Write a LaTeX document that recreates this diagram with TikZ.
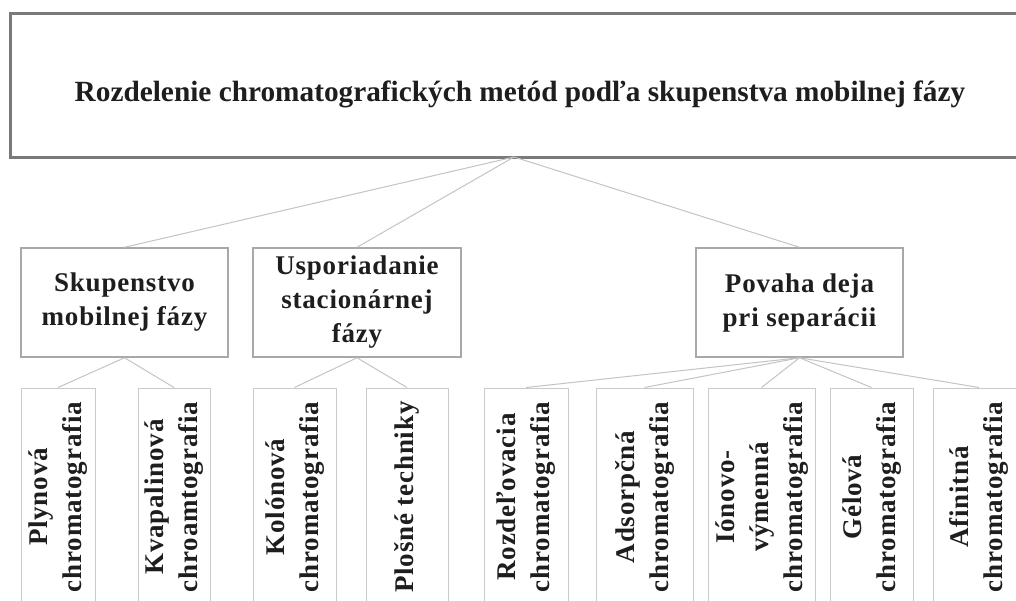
\documentclass[tikz,border=0pt]{standalone}
\usepackage{fontspec}
\setmainfont{Liberation Serif}
\newfontfamily\spc[LetterSpace=3]{Liberation Serif}
\definecolor{topgray}{HTML}{7A7A7A}
\definecolor{midgray}{HTML}{A8A8A8}
\definecolor{leafgray}{HTML}{CACACA}
\definecolor{conngray}{HTML}{C4C4C4}
\definecolor{txt}{HTML}{1E1E1E}
\newcommand{\leaftext}[1]{\rotatebox{90}{\begin{tabular}{@{}c@{}}#1\end{tabular}}}
\begin{document}
\begin{tikzpicture}[x=1pt,y=-1pt,
  topbox/.style={draw=topgray, line width=3pt, minimum width=1020pt, minimum height=144pt, inner sep=0pt},
  toptext/.style={text=txt, font=\bfseries\fontsize{29.3}{34}\selectfont, inner sep=0pt},
  midbox/.style={draw=midgray, line width=1.5pt, fill=white, inner sep=0pt, minimum height=109pt, align=center, text=txt, font=\spc\bfseries\fontsize{27}{34}\selectfont},
  leafbox/.style={draw=leafgray, line width=1pt, fill=white, inner sep=0pt, minimum height=218pt, text=txt, font=\spc\bfseries\fontsize{27}{34}\selectfont},
  conn/.style={draw=conngray, line width=1pt}]
\useasboundingbox (0,0) rectangle (1016,600);
\clip (0,0) rectangle (1016,600);
\fill[white] (0,0) rectangle (1016,600);

% top
\node[topbox] (top) at (520,85) {};
\node[toptext] (title) at (520,94) {Rozdelenie chromatografických metód podľa skupenstva mobilnej fázy};
\coordinate (t0) at (514,157);

% level 2
\node[midbox, minimum width=207pt] (sk) at (124.5,302.5) {Skupenstvo\\mobilnej fázy};
\node[midbox, minimum width=208pt] (us) at (357,302.5) {Usporiadanie\\stacionárnej\\fázy};
\node[midbox, minimum width=207pt] (po) at (799.5,302.5) {Povaha deja\\pri separácii};

% level 3
\node[leafbox, minimum width=74pt] (pl) at (58,497) {\leaftext{Plynová\\chromatografia}};
\node[leafbox, minimum width=72pt] (kv) at (174,497) {\leaftext{Kvapalinová\\chroamtografia}};
\node[leafbox, minimum width=83pt] (ko) at (294.5,497) {\leaftext{Kolónová\\chromatografia}};
\node[leafbox, minimum width=82pt] (ps) at (407,497) {\leaftext{Plošné techniky}};
\node[leafbox, minimum width=84pt] (ro) at (526,497) {\leaftext{Rozdeľovacia\\chromatografia}};
\node[leafbox, minimum width=97pt] (ad) at (644.5,497) {\leaftext{Adsorpčná\\chromatografia}};
\node[leafbox, minimum width=107pt] (io) at (761.5,497) {\leaftext{Iónovo-\\výmenná\\chromatografia}};
\node[leafbox, minimum width=83pt] (ge) at (871.5,497) {\leaftext{Gélová\\chromatografia}};
\node[leafbox, minimum width=92pt] (af) at (979,497) {\leaftext{Afinitná\\chromatografia}};

% connectors
\draw[conn] (t0) -- (sk.north);
\draw[conn] (t0) -- (us.north);
\draw[conn] (t0) -- (po.north);
\draw[conn] (sk.south) -- (pl.north);
\draw[conn] (sk.south) -- (kv.north);
\draw[conn] (us.south) -- (ko.north);
\draw[conn] (us.south) -- (ps.north);
\draw[conn] (po.south) -- (ro.north);
\draw[conn] (po.south) -- (ad.north);
\draw[conn] (po.south) -- (io.north);
\draw[conn] (po.south) -- (ge.north);
\draw[conn] (po.south) -- (af.north);
\end{tikzpicture}
\end{document}
